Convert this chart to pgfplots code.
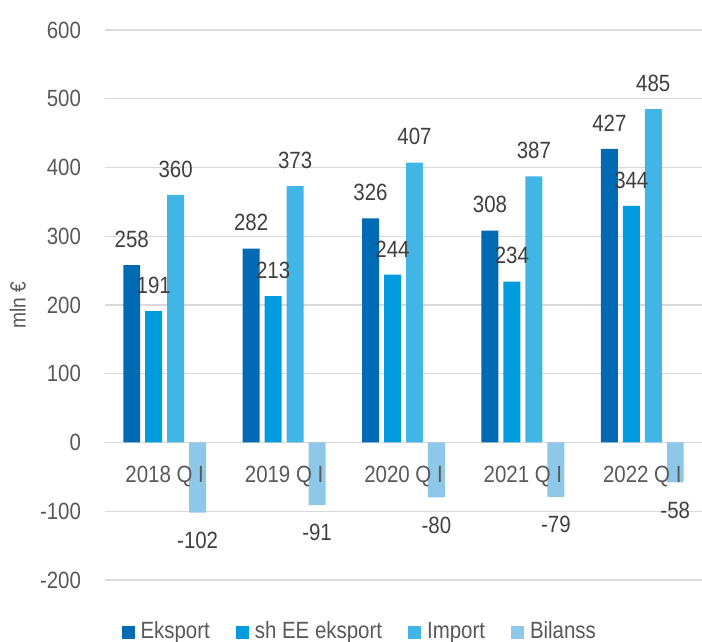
\documentclass[border=0pt]{standalone}
\usepackage{fontspec}
\setmainfont{Liberation Sans}[FakeStretch=0.87]
\usepackage{pgfplots}
\pgfplotsset{compat=1.18}
\pgfplotsset{
  layers/labelsontop/.define layer set={
    axis background,axis grid,axis ticks,axis lines,pre main,main,axis tick labels,axis descriptions,axis foreground
  }{/pgfplots/layers/standard},
}
\definecolor{cEks}{RGB}{0,106,180}
\definecolor{cSh}{RGB}{0,156,222}
\definecolor{cImp}{RGB}{65,182,230}
\definecolor{cBil}{RGB}{141,200,232}
\definecolor{gridc}{RGB}{217,217,217}
\definecolor{labc}{RGB}{64,64,64}
\definecolor{tickc}{RGB}{89,89,89}
\begin{document}
\fontsize{23.5bp}{28bp}\selectfont
\begin{tikzpicture}
\begin{axis}[
  set layers=labelsontop,
  scale only axis,
  width=597bp, height=550bp,
  xmin=-0.5, xmax=4.5,
  ymin=-200, ymax=600,
  ytick={-200,-100,0,100,200,300,400,500,600},
  xtick={0,1,2,3,4},
  xticklabels={{2018 Q I},{2019 Q I},{2020 Q I},{2021 Q I},{2022 Q I}},
  axis x line*=middle,
  axis y line*=left,
  y axis line style={draw=none},
  x axis line style={draw=gridc, line width=1.2bp, -},
  major tick length=0pt,
  ymajorgrids,
  grid style={gridc, line width=1.2bp},
  /pgf/number format/assume math mode=true,
  ticklabel style={font=\fontsize{23.5bp}{28bp}\selectfont, text=tickc},
  yticklabel style={xshift=-16bp},
  xticklabel style={yshift=-16bp},
  ylabel={mln €},
  ylabel style={at={(axis description cs:-0.146,0.5)}, anchor=center, rotate=0, font=\fontsize{22bp}{26bp}\selectfont, text=tickc},
  ybar, bar width=0.142,
  nodes near coords,
  every node near coord/.append style={font=\fontsize{23.5bp}{28bp}\selectfont, text=labc, anchor=south, yshift=9.5bp},
  legend style={draw=none, at={(axis description cs:0.425,-0.095)}, anchor=center, legend columns=4,
    font=\fontsize{23.5bp}{28bp}\selectfont, text=tickc,
    nodes={inner xsep=0bp},
    /tikz/every odd column/.append style={column sep=6bp},
    /tikz/every even column/.append style={column sep=26bp}, inner sep=0pt},
  legend image code/.code={\fill[#1, draw=none] (0bp,-6.5bp) rectangle (13bp,6.5bp);},
  clip=false,
]
\addplot[fill=cEks, draw=none, bar shift=-0.276] coordinates {(0,258) (1,282) (2,326) (3,308) (4,427)};
\addplot[fill=cSh, draw=none, bar shift=-0.092] coordinates {(0,191) (1,213) (2,244) (3,234) (4,344)};
\addplot[fill=cImp, draw=none, bar shift=0.092] coordinates {(0,360) (1,373) (2,407) (3,387) (4,485)};
\addplot[fill=cBil, draw=none, bar shift=0.276, every node near coord/.append style={anchor=north, yshift=-21bp}] coordinates {(0,-102) (1,-91) (2,-80) (3,-79) (4,-58)};
\legend{Eksport, sh EE eksport, Import, Bilanss}
\end{axis}
\pgfresetboundingbox
\path ([xshift=-105bp,yshift=-62bp]current axis.south west) rectangle ([yshift=30bp]current axis.north east);
\end{tikzpicture}
\end{document}
